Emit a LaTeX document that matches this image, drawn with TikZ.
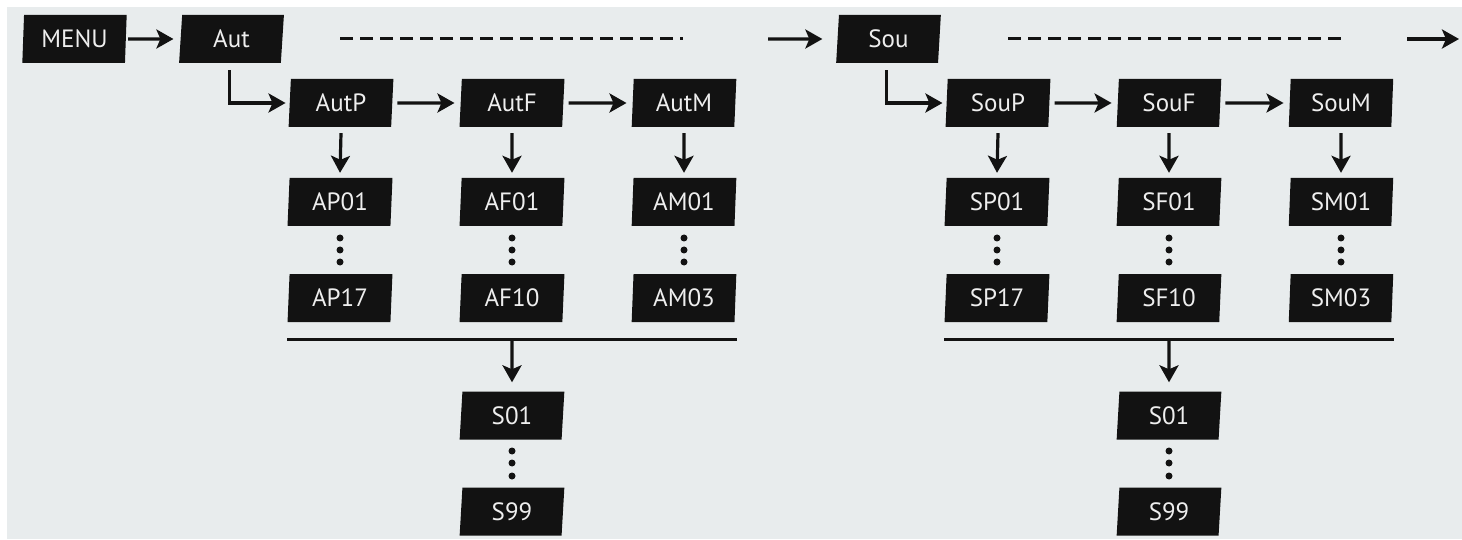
\documentclass[tikz,border=0pt]{standalone}
\usepackage{fontspec}
\setmainfont{PT Sans}
\usetikzlibrary{shapes.geometric,arrows.meta,calc}
\definecolor{bg}{HTML}{E8ECED}
\definecolor{boxc}{HTML}{121212}
\definecolor{txt}{HTML}{EEEEEE}
\tikzset{
  box/.style={trapezium, trapezium left angle=86.4, trapezium right angle=93.6,
    trapezium stretches=true, minimum width=105pt, minimum height=48pt,
    inner sep=0pt, fill=boxc, text=txt, font=\fontsize{25}{29}\selectfont},
  arr/.style={line width=3.2pt, draw=boxc, -{Stealth[length=17pt,width=19pt,inset=4pt]}},
  plain/.style={line width=3pt, draw=boxc},
  dashline/.style={line width=3pt, draw=boxc, dash pattern=on 13pt off 7pt},
  dot/.style={circle, fill=boxc, inner sep=0pt, minimum size=7pt}
}
\begin{document}
\begin{tikzpicture}[x=1pt,y=-1pt]
\useasboundingbox (0,0) rectangle (1462,540);
\fill[white] (0,0) rectangle (1462,540);
\fill[bg] (7,7) rectangle (1462,539);

% top row
\node[box] (menu) at (74.5,39) {MENU};
\node[box] (aut) at (231.5,39) {Aut};
\node[box] (sou) at (888.5,39) {Sou};

\draw[arr] ([xshift=2pt]menu.east) -- ([xshift=-7pt]aut.west);
\coordinate (d1s) at (340,39); \coordinate (d1e) at (683,39);
\draw[dashline] (d1s) -- (d1e);
\coordinate (a2s) at (768,39);
\draw[arr] (a2s) -- ([xshift=-15pt]sou.west);
\coordinate (d2s) at (1008,39); \coordinate (d2e) at (1347,39);
\draw[dashline] (d2s) -- (d2e);
\coordinate (a3s) at (1407,39); \coordinate (a3e) at (1459,39);
\draw[arr] (a3s) -- (a3e);

% two groups
\foreach \gg/\gx/\pn/\ta/\tb/\tc/\pa/\pb/\fa/\fb/\ma/\mb in
  {L/0/aut/AutP/AutF/AutM/AP01/AP17/AF01/AF10/AM01/AM03,
   R/657/sou/SouP/SouF/SouM/SP01/SP17/SF01/SF10/SM01/SM03}{
  \node[box] (\gg p) at (341+\gx,103) {\ta};
  \node[box] (\gg f) at (512+\gx,103) {\tb};
  \node[box] (\gg m) at (684+\gx,103) {\tc};
  \draw[arr] ([xshift=-2pt,yshift=-7pt]\pn.south) |- ([xshift=-4pt]\gg p.west);
  \draw[arr] ([xshift=5pt]\gg p.east) -- ([xshift=-6pt]\gg f.west);
  \draw[arr] ([xshift=5pt]\gg f.east) -- ([xshift=-6pt]\gg m.west);
  \node[box] (\gg p1) at (340+\gx,202) {\pa};
  \node[box] (\gg p2) at (340+\gx,298) {\pb};
  \node[box] (\gg f1) at (512+\gx,202) {\fa};
  \node[box] (\gg f2) at (512+\gx,298) {\fb};
  \node[box] (\gg m1) at (684+\gx,202) {\ma};
  \node[box] (\gg m2) at (684+\gx,298) {\mb};
  \draw[arr] ([yshift=-6pt]\gg p.south) -- ([yshift=5pt]\gg p1.north);
  \draw[arr] ([yshift=-6pt]\gg f.south) -- ([yshift=5pt]\gg f1.north);
  \draw[arr] ([yshift=-6pt]\gg m.south) -- ([yshift=5pt]\gg m1.north);
  \foreach \col/\cx in {p/340,f/512,m/684}{
    \node[dot] (\gg\col d1) at (\cx+\gx,238) {};
    \node[dot] (\gg\col d2) at (\cx+\gx,250) {};
    \node[dot] (\gg\col d3) at (\cx+\gx,262) {};
  }
  \coordinate (\gg hl) at (287+\gx,339);
  \coordinate (\gg hr) at (737+\gx,339);
  \coordinate (\gg hm) at (512+\gx,339);
  \draw[plain] (\gg hl) -- (\gg hr);
  \node[box] (\gg s1) at (512+\gx,415.5) {S01};
  \node[box] (\gg s2) at (512+\gx,511.5) {S99};
  \draw[arr] (\gg hm) -- ([yshift=9pt]\gg s1.north);
  \node[dot] (\gg sd1) at (512+\gx,451) {};
  \node[dot] (\gg sd2) at (512+\gx,463) {};
  \node[dot] (\gg sd3) at (512+\gx,476) {};
}
\end{tikzpicture}
\end{document}
